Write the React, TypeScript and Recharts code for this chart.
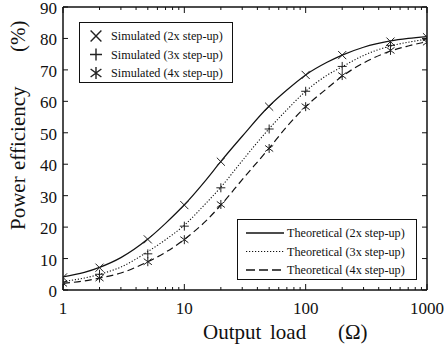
import React from 'react'
import {
  ComposedChart,
  Line,
  Scatter,
  XAxis,
  YAxis,
  Legend,
  Label,
} from 'recharts'

const FONT = '"Liberation Serif", "Times New Roman", serif'
const INK = '#111'

// simulated points
const LOADS = [1, 2, 5, 10, 20, 50, 100, 200, 500, 1000]
const SIM_2X = [4.0, 7.1, 16.1, 27.0, 40.8, 58.3, 68.4, 74.7, 79.0, 80.4]
const SIM_3X = [2.6, 5.0, 11.5, 20.3, 32.5, 51.2, 63.2, 71.1, 77.8, 79.6]
const SIM_4X = [2.1, 3.8, 9.0, 16.0, 27.2, 45.0, 58.3, 68.2, 76.2, 78.8]

// theoretical curves
const CURVE_LOADS = [1, 1.5, 2, 3, 5, 7, 10, 15, 20, 30, 50, 70, 100, 150, 200, 300, 500, 700, 1000]
const THEO_2X = [4.2, 5.6, 7.2, 10.3, 16.2, 21.2, 27.1, 34.9, 40.9, 48.9, 58.5, 63.6, 68.4, 72.4, 74.7, 77.2, 79.2, 80.0, 80.6]
const THEO_3X = [2.7, 3.8, 5.0, 7.3, 12.2, 16.0, 20.6, 27.5, 32.7, 41.1, 51.3, 57.3, 63.2, 68.3, 71.0, 74.6, 77.6, 78.8, 79.8]
const THEO_4X = [2.1, 2.9, 3.8, 5.4, 9.0, 12.0, 16.1, 21.9, 27.0, 35.1, 45.1, 52.0, 58.3, 64.1, 68.0, 72.2, 76.0, 77.6, 79.0]

const X_TICKS = [
  1, 2, 3, 4, 5, 6, 7, 8, 9,
  10, 20, 30, 40, 50, 60, 70, 80, 90,
  100, 200, 300, 400, 500, 600, 700, 800, 900,
  1000,
]
const X_LABELS = [1, 10, 100, 1000]
const Y_TICKS = [0, 10, 20, 30, 40, 50, 60, 70, 80, 90]

const SIM_NAMES = ['Simulated (2x step-up)', 'Simulated (3x step-up)', 'Simulated (4x step-up)']
const THEO_NAMES = ['Theoretical (2x step-up)', 'Theoretical (3x step-up)', 'Theoretical (4x step-up)']
const DASHES = ['', '1.2 1.8', '7 4']

const toPoints = (xs: number[], ys: number[]) => xs.map((x, i) => ({ x, y: ys[i] }))

const sim = [SIM_2X, SIM_3X, SIM_4X].map((s) => toPoints(LOADS, s))
const theo = [THEO_2X, THEO_3X, THEO_4X].map((s) => toPoints(CURVE_LOADS, s))

// x, + and * markers
function Marker({ kind, cx, cy, r = 4, sw = 1 }: { kind: number; cx: number; cy: number; r?: number; sw?: number }) {
  const d = r * 0.9
  const cross = `M${cx - d},${cy - d}L${cx + d},${cy + d}M${cx - d},${cy + d}L${cx + d},${cy - d}`
  const plus = `M${cx - r},${cy}L${cx + r},${cy}M${cx},${cy - r}L${cx},${cy + r}`
  let path = cross
  if (kind === 1) path = plus
  if (kind === 2)
    path =
      `M${cx},${cy - r}L${cx},${cy + r}` +
      `M${cx - d},${cy - d * 0.75}L${cx + d},${cy + d * 0.75}M${cx - d},${cy + d * 0.75}L${cx + d},${cy - d * 0.75}`
  return <path d={path} stroke="#222" strokeWidth={sw} fill="none" />
}

const isMajor = (v: number) => X_LABELS.includes(v)

// ticks point into the plot, like the original figure
const BottomTick = (props: any) => {
  const { x, y, payload } = props
  const v = payload.value
  return (
    <g>
      <line x1={x} x2={x} y1={y} y2={y - (isMajor(v) ? 6 : 3)} stroke={INK} strokeWidth={1} />
      {isMajor(v) && (
        <text x={x} y={y + 24} textAnchor="middle" fontFamily={FONT} fontSize={17} fill={INK}>
          {v}
        </text>
      )}
    </g>
  )
}

const TopTick = (props: any) => {
  const { x, y, payload } = props
  const v = payload.value
  return <line x1={x} x2={x} y1={y} y2={y + (isMajor(v) ? 6 : 3)} stroke={INK} strokeWidth={1} />
}

const LeftTick = (props: any) => {
  const { x, y, payload } = props
  return (
    <g>
      <line x1={x} x2={x + 5} y1={y} y2={y} stroke={INK} strokeWidth={1} />
      <text x={x - 6} y={y + 7} textAnchor="end" fontFamily={FONT} fontSize={17} fill={INK}>
        {payload.value}
      </text>
    </g>
  )
}

const RightTick = (props: any) => {
  const { x, y } = props
  return <line x1={x} x2={x - 5} y1={y} y2={y} stroke={INK} strokeWidth={1} />
}

const XTitle = (props: any) => {
  const vb = props.viewBox
  const y = vb.y + 49
  return (
    <text y={y} fontFamily={FONT} fontSize={21} fill={INK}>
      <tspan x={vb.x + 140}>Output</tspan>
      <tspan x={vb.x + 207}>load</tspan>
      <tspan x={vb.x + 275}>(Ω)</tspan>
    </text>
  )
}

const YTitle = () => (
  <text transform="translate(25,0) rotate(-90)" fontFamily={FONT} fontSize={21} fill={INK}>
    <tspan x={-230}>Power</tspan>
    <tspan x={-170}>efficiency</tspan>
    <tspan x={-52}>(%)</tspan>
  </text>
)

const boxStyle = {
  position: 'absolute' as const,
  height: 61,
  boxSizing: 'border-box' as const,
  border: `1.5px solid ${INK}`,
  background: '#fff',
}

const LegendBoxes = () => (
  <div style={{ position: 'absolute', left: 0, top: 0, width: 446, height: 347 }}>
    <div style={{ ...boxStyle, left: 79, top: 22, width: 154 }} />
    <div style={{ ...boxStyle, left: 237, top: 219, width: 180 }} />
    <svg width={446} height={347} style={{ position: 'absolute', left: 0, top: 0, overflow: 'visible' }}>
      {SIM_NAMES.map((name, i) => (
        <g key={name}>
          <Marker kind={i} cx={96} cy={36 + i * 18.5} r={6} sw={1.4} />
          <text x={111} y={36 + i * 18.5 + 4} fontFamily={FONT} fontSize={12.2} fill={INK}>
            {name}
          </text>
        </g>
      ))}
      {THEO_NAMES.map((name, i) => (
        <g key={name}>
          <line
            x1={246}
            x2={284}
            y1={233 + i * 18.5}
            y2={233 + i * 18.5}
            stroke={INK}
            strokeWidth={i === 1 ? 1.2 : 1.5}
            strokeDasharray={i === 2 ? '9 4' : DASHES[i]}
          />
          <text x={287} y={233 + i * 18.5 + 4} fontFamily={FONT} fontSize={12.2} fill={INK}>
            {name}
          </text>
        </g>
      ))}
    </svg>
  </div>
)

export default function App() {
  return (
    <div style={{ position: 'fixed', left: 0, top: 0, width: 446, height: 347, background: '#fff' }}>
      <ComposedChart width={446} height={347} margin={{ top: 6, right: 18, bottom: 0, left: 0 }}>
        <XAxis
          dataKey="x"
          type="number"
          scale="log"
          domain={[1, 1000]}
          allowDataOverflow
          ticks={X_TICKS}
          interval={0}
          height={57}
          tickSize={0}
          tickMargin={0}
          tickLine={false}
          axisLine={{ stroke: INK, strokeWidth: 1.5 }}
          tick={BottomTick}
        >
          <Label content={XTitle} />
        </XAxis>
        <XAxis
          xAxisId="top"
          orientation="top"
          dataKey="x"
          type="number"
          scale="log"
          domain={[1, 1000]}
          allowDataOverflow
          ticks={X_TICKS}
          interval={0}
          height={1}
          tickSize={0}
          tickMargin={0}
          tickLine={false}
          axisLine={{ stroke: INK, strokeWidth: 1.5 }}
          tick={TopTick}
        />
        <YAxis
          type="number"
          domain={[0, 90]}
          ticks={Y_TICKS}
          interval={0}
          width={63}
          tickSize={0}
          tickMargin={0}
          tickLine={false}
          axisLine={{ stroke: INK, strokeWidth: 1.5 }}
          tick={LeftTick}
        >
          <Label content={YTitle} />
        </YAxis>
        <YAxis
          yAxisId="right"
          orientation="right"
          type="number"
          domain={[0, 90]}
          ticks={Y_TICKS}
          interval={0}
          width={1}
          tickSize={0}
          tickMargin={0}
          tickLine={false}
          axisLine={{ stroke: INK, strokeWidth: 1.5 }}
          tick={RightTick}
        />
        {theo.map((pts, i) => (
          <Line
            key={THEO_NAMES[i]}
            data={pts}
            dataKey="y"
            name={THEO_NAMES[i]}
            type="monotone"
            stroke={INK}
            strokeWidth={i === 1 ? 1.1 : 1.2}
            strokeDasharray={DASHES[i]}
            dot={false}
            isAnimationActive={false}
          />
        ))}
        {sim.map((pts, i) => (
          <Scatter
            key={SIM_NAMES[i]}
            xAxisId="top"
            yAxisId="right"
            data={pts}
            dataKey="y"
            name={SIM_NAMES[i]}
            isAnimationActive={false}
            shape={(p: any) => <Marker kind={i} cx={p.cx} cy={p.cy} r={4.5} />}
          />
        ))}
        <Legend
          layout="horizontal"
          verticalAlign="middle"
          align="center"
          wrapperStyle={{ position: 'absolute', left: 0, top: 0, width: 446, height: 347 }}
          content={() => <LegendBoxes />}
        />
      </ComposedChart>
    </div>
  )
}
